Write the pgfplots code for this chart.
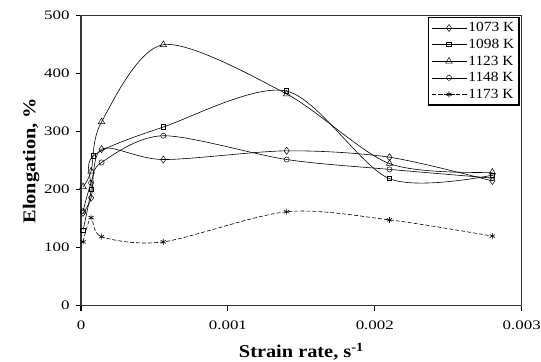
\documentclass[border=0pt]{standalone}
\usepackage{fontspec}
\setmainfont{Liberation Serif}
\newfontfamily\tickfont[FakeStretch=1.3]{Liberation Serif}
\newfontfamily\labfont[FakeStretch=1.13]{Liberation Serif}
\newfontfamily\legfont[FakeStretch=1.1]{Liberation Serif}
\usepackage{pgfplots}
\pgfplotsset{compat=1.18}
\begin{document}
\begin{tikzpicture}
\begin{axis}[
  name=ax,
  scale only axis, width=440.7pt, height=290pt,
  xmin=0, xmax=0.003, ymin=0, ymax=500,
  scaled x ticks=false,
  xtick={0,0.001,0.002,0.003}, xticklabels={0,0.001,0.002,0.003},
  ytick={0,100,200,300,400,500},
  tick align=outside, tick pos=left,
  major tick length=5pt,
  axis line style={line width=1.2pt, black!80},
  every tick/.style={line width=1.2pt, black},
  ticklabel style={font=\tickfont\fontsize{13}{13}\selectfont},
  xticklabel style={yshift=-7pt},
  yticklabel style={xshift=-3pt},
  /pgf/number format/assume math mode=true,
  xlabel={\textbf{Strain rate, s\textsuperscript{-1}}},
  ylabel={\textbf{Elongation, \%}},
  label style={font=\labfont\fontsize{18}{18}\selectfont},
  xlabel style={yshift=-6pt},
  ylabel style={yshift=-2pt},
  legend style={at={(rel axis cs:0.996,0.996)}, anchor=north east,
    draw=black, line width=1.5pt, font=\legfont\fontsize{14}{14}\selectfont,
    row sep=1.8pt, inner sep=3pt},
  legend cell align=left,
  legend image code/.code={\draw[mark repeat=2,mark phase=2] plot coordinates {(0cm,0cm) (0.6cm,0cm) (1.2cm,0cm)};},
  every axis plot/.append style={line width=0.6pt, black, smooth, tension=0.5},
]
\addplot[mark=diamond, mark size=3.5pt, mark options={fill=white, solid, line width=0.5pt}] coordinates {
 (1.4e-5,160) (6.9e-5,186) (1.4e-4,270) (5.6e-4,252) (1.4e-3,267) (2.1e-3,256) (2.8e-3,215)};
\addlegendentry{1073 K}
\addplot[mark=square, mark size=2.2pt, mark options={fill=white, solid, line width=0.8pt}] coordinates {
 (1.4e-5,130) (6.9e-5,200) (8.3e-5,258) (5.6e-4,308) (1.4e-3,370) (2.1e-3,219) (2.8e-3,225)};
\addlegendentry{1098 K}
\addplot[mark=triangle, mark size=3.8pt, mark options={fill=white, solid, line width=0.5pt}] coordinates {
 (1.4e-5,205) (6.9e-5,232) (1.4e-4,317) (5.6e-4,450) (1.4e-3,365) (2.1e-3,245) (2.8e-3,230)};
\addlegendentry{1123 K}
\addplot[mark=o, mark size=2.6pt, mark options={fill=white, solid, line width=0.5pt}] coordinates {
 (1.4e-5,163) (6.9e-5,212) (1.4e-4,247) (5.6e-4,293) (1.4e-3,252) (2.1e-3,235) (2.8e-3,220)};
\addlegendentry{1148 K}
\addplot[dashed, dash pattern=on 4pt off 2pt, mark=asterisk, mark size=3pt, mark options={solid, line width=0.6pt}] coordinates {
 (1.4e-5,110) (6.9e-5,152) (1.4e-4,119) (5.6e-4,110) (1.4e-3,162) (2.1e-3,148) (2.8e-3,120)};
\addlegendentry{1173 K}
\end{axis}
\pgfresetboundingbox
\path ([shift={(-81pt,-56.3pt)}]ax.south west) rectangle ([shift={(19.3pt,15.7pt)}]ax.north east);
\end{tikzpicture}
\end{document}
